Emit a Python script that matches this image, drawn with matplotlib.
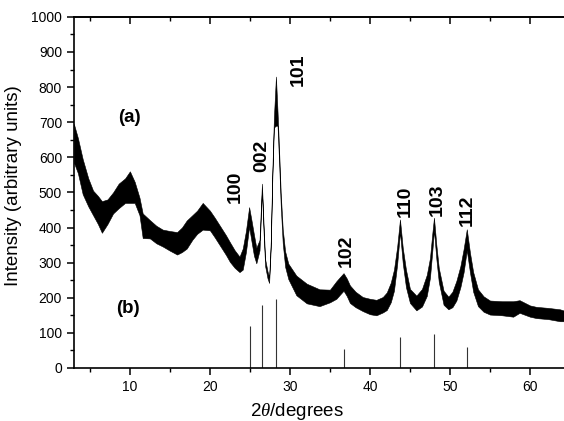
import numpy as np
import matplotlib as mpl
mpl.use('Agg')
import matplotlib.pyplot as plt
from matplotlib.ticker import MultipleLocator

mpl.rcParams['font.family'] = ['Liberation Sans', 'DejaVu Sans']
mpl.rcParams['mathtext.fontset'] = 'custom'
mpl.rcParams['mathtext.it'] = 'Liberation Serif:italic'

# measured pattern: 2theta, mean intensity and half spread of the noise
two_theta = [3.0, 3.5, 4.1, 4.8, 5.4, 6.0, 6.5, 7.2, 7.9, 8.6, 9.4, 10.0,
             10.6, 11.2, 11.6, 12.5, 13.3, 14.1, 15.0, 15.9, 16.5, 17.1,
             17.8, 18.4, 19.1, 20.0, 20.6, 21.3, 22.0, 22.5, 23.1, 23.7,
             24.1, 24.5, 24.9, 25.2, 25.5, 25.8, 26.2, 26.5, 26.7, 26.9,
             27.2, 27.4, 27.6, 27.8, 28.0, 28.25, 28.45, 28.65, 28.85, 29.1,
             29.4, 29.8, 30.8, 32.1, 33.7, 35.0, 35.8, 36.3, 36.7, 37.1,
             37.5, 38.2, 39.1, 40.0, 40.8, 41.6, 42.1, 42.6, 43.0, 43.4,
             43.75, 44.1, 44.5, 45.0, 45.8, 46.5, 47.1, 47.5, 47.8, 48.0,
             48.3, 48.6, 49.2, 49.8, 50.3, 50.8, 51.3, 51.7, 52.1, 52.5,
             52.9, 53.5, 54.2, 55.0, 56.5, 57.9, 58.7, 60.0, 60.8, 62.3,
             63.75, 64.3]
intensity = [640, 605, 545, 500, 470, 450, 430, 445, 470, 490, 505, 515,
             500, 460, 405, 395, 380, 370, 362, 355, 365, 380,
             400, 415, 432, 420, 400, 375, 350, 330, 310, 295,
             310, 360, 430, 390, 350, 320, 350, 515, 400, 300,
             265, 250, 350, 550, 700, 760, 710, 600, 480, 375,
             310, 275, 235, 212, 200, 205, 222, 235, 245, 230,
             210, 195, 182, 175, 172, 180, 190, 215, 250, 320,
             405, 320, 255, 205, 185, 200, 235, 285, 360, 410,
             330, 265, 200, 185, 195, 220, 260, 305, 365, 300,
             245, 200, 182, 172, 170, 168, 175, 162, 158, 155,
             150, 148]
spread = [55, 50, 50, 40, 35, 40, 45, 35, 30, 35, 35, 45,
          30, 25, 35, 26, 25, 24, 28, 32, 35, 40,
          35, 33, 38, 28, 28, 28, 28, 28, 25, 22,
          30, 30, 28, 30, 30, 22, 15, 10, 12, 10,
          10, 8, 10, 10, 15, 70, 20, 18, 18, 20,
          22, 22, 28, 28, 24, 18, 25, 25, 25, 25,
          25, 22, 20, 22, 22, 22, 25, 28, 30, 25,
          18, 22, 25, 20, 21, 25, 30, 28, 25, 18,
          20, 20, 20, 18, 22, 28, 30, 33, 30, 28,
          28, 24, 22, 20, 20, 22, 18, 16, 16, 16,
          17, 15]

# reference line positions and heights
ref_pos = [25.0, 26.5, 28.3, 36.8, 43.8, 48.0, 52.1]
ref_height = [120, 178, 195, 55, 88, 97, 60]

hkl = ['100', '002', '101', '102', '110', '103', '112']
hkl_x = [23.2, 26.5, 31.1, 37.0, 44.4, 48.4, 52.2]
hkl_y = [516, 604, 849, 333, 474, 479, 450]

x = np.array(two_theta)
y = np.array(intensity)
s = np.array(spread)

fig = plt.figure(figsize=(5.64, 4.21), dpi=100)
ax = fig.add_axes([0.131, 0.126, 0.869, 0.834])

ax.fill_between(x, y - s, y + s, color='black', linewidth=0.4)
ax.vlines(ref_pos, 0, ref_height, color='#333333', linewidth=0.8)

for lab, lx, ly in zip(hkl, hkl_x, hkl_y):
    ax.text(lx, ly, lab, rotation=90, ha='center', va='center',
            fontsize=14, fontweight='bold')

ax.text(9.9, 714, '(a)', ha='center', va='center', fontsize=13.5, fontweight='bold')
ax.text(9.8, 168, '(b)', ha='center', va='center', fontsize=13.5, fontweight='bold')

ax.set_xlim(3.0, 64.25)
ax.set_ylim(0, 1000)
ax.xaxis.set_major_locator(MultipleLocator(10))
ax.xaxis.set_minor_locator(MultipleLocator(5))
ax.yaxis.set_major_locator(MultipleLocator(100))
ax.yaxis.set_minor_locator(MultipleLocator(50))

ax.spines['right'].set_visible(False)
for sp in ['left', 'bottom', 'top']:
    ax.spines[sp].set_linewidth(1.2)

ax.tick_params(axis='both', which='major', direction='out', length=5,
               width=1.1, labelsize=10)
ax.tick_params(axis='both', which='minor', direction='out', length=3, width=1.0)

# top axis: inward ticks, no labels
top = ax.secondary_xaxis('top')
top.xaxis.set_major_locator(MultipleLocator(10))
top.xaxis.set_minor_locator(MultipleLocator(5))
top.tick_params(which='major', direction='in', length=5, width=1.1, labeltop=False)
top.tick_params(which='minor', direction='in', length=3, width=1.0)
top.spines['top'].set_linewidth(1.2)

ax.set_xlabel(r'2$\it{\theta}$/degrees', fontsize=13.5)
ax.set_ylabel('Intensity (arbitrary units)', fontsize=13.5)
ax.xaxis.set_label_coords(0.455, -0.095)
ax.yaxis.set_label_coords(-0.105, 0.52)

fig.savefig('out.png', dpi=100)
